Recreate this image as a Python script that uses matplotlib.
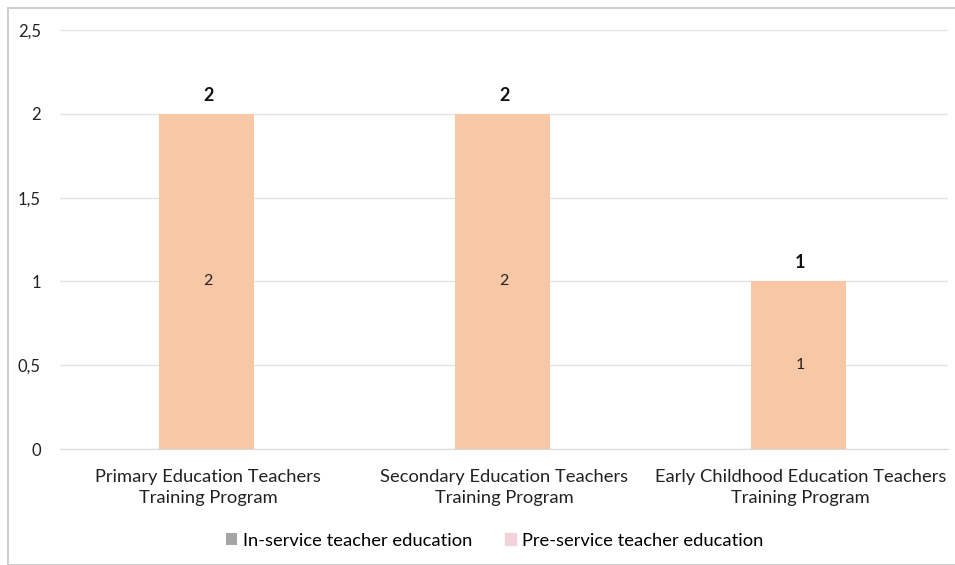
import matplotlib.pyplot as plt
import numpy as np

plt.rcParams['font.family'] = ['Lato', 'DejaVu Sans']

categories = ["Primary Education Teachers\nTraining Program",
              "Secondary Education Teachers\nTraining Program",
              "Early Childhood Education Teachers\nTraining Program"]
in_service = [0, 0, 0]
pre_service = [2, 2, 1]
y_ticks = [0, 0.5, 1, 1.5, 2, 2.5]
y_tick_labels = ["0", "0,5", "1", "1,5", "2", "2,5"]

fig = plt.figure(figsize=(9.55, 5.65), dpi=100)
ax = fig.add_axes([0.063, 0.205, 0.93, 0.742])

x = np.arange(len(categories))
w = 0.32
ax.bar(x - 0.005, in_service, w, color="#A5A5A5", label="In-service teacher education")
ax.bar(x - 0.005, pre_service, w, bottom=in_service, color="#F8C8A6",
       label="Pre-service teacher education")

totals = [a + b for a, b in zip(in_service, pre_service)]
for xi, v, t in zip(x, pre_service, totals):
    ax.text(xi, v / 2, str(v), ha="center", va="center", fontsize=11.5, color="#222222")
    ax.text(xi, t + 0.06, str(t), ha="center", va="bottom", fontsize=13,
            fontweight="bold", color="#111111")

ax.set_xlim(-0.5, 2.5)
ax.set_ylim(0, 2.5)
ax.set_yticks(y_ticks)
ax.set_yticklabels(y_tick_labels)
ax.set_xticks(x)
ax.set_xticklabels(categories, fontsize=13.2, color="#222222", linespacing=1.45)
ax.tick_params(axis="y", length=0, labelsize=12, colors="#222222", pad=14)
ax.tick_params(axis="x", length=0, pad=14)
ax.grid(axis="y", color="#E3E3E3", linewidth=1)
ax.set_axisbelow(True)
for s in ["top", "right", "left"]:
    ax.spines[s].set_visible(False)
ax.spines["bottom"].set_color("#D9D9D9")

leg = fig.legend(loc="lower center", bbox_to_anchor=(0.518, 0.0), ncol=2, frameon=False,
                 fontsize=13.2, handlelength=0.6, handleheight=0.6, columnspacing=1.8,
                 handletextpad=0.3)
leg.legend_handles[1].set_color("#F2D3DA")

fig.patches.append(plt.Rectangle((0.008, 0.0), 0.995, 0.985, transform=fig.transFigure,
                                 fill=False, edgecolor="#D0D0D0", linewidth=1.5))

fig.savefig("out.png", dpi=100)
